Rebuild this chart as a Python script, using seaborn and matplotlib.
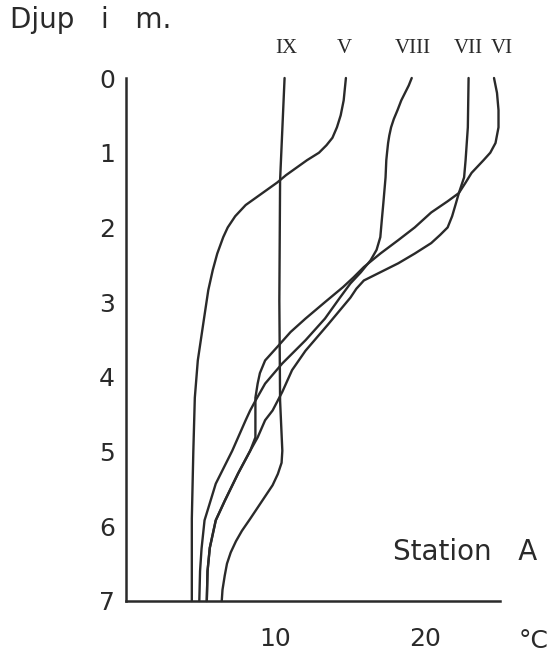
import matplotlib
matplotlib.use("Agg")
import matplotlib.pyplot as plt
import pandas as pd
import seaborn as sns

# Temperature profiles (°C) against depth (m), station A
months = ["IX", "V", "VIII", "VII", "VI"]

depth_IX = [0.0, 1.37, 2.98, 4.32, 4.99, 5.15, 5.3, 5.45, 5.6, 5.75, 5.9,
            6.06, 6.2, 6.35, 6.5, 6.66, 6.85, 7.0]
temp_IX = [10.6, 10.3, 10.25, 10.3, 10.45, 10.4, 10.15, 9.8, 9.3, 8.8, 8.3,
           7.75, 7.35, 7.0, 6.75, 6.6, 6.45, 6.4]

depth_V = [0.0, 0.3, 0.5, 0.66, 0.8, 0.9, 1.0, 1.1, 1.2, 1.3, 1.4, 1.5, 1.6,
           1.7, 1.85, 2.0, 2.13, 2.35, 2.57, 2.84, 3.24, 3.78, 4.28, 5.0,
           5.9, 7.0]
temp_V = [14.7, 14.55, 14.35, 14.1, 13.8, 13.4, 12.9, 12.1, 11.4, 10.7, 10.1,
          9.4, 8.7, 8.0, 7.3, 6.8, 6.5, 6.1, 5.8, 5.5, 5.2, 4.8, 4.6, 4.5,
          4.4, 4.4]

depth_VIII = [0.0, 0.1, 0.2, 0.3, 0.43, 0.55, 0.66, 0.77, 0.87, 1.0, 1.1,
              1.33, 1.68, 1.9, 2.13, 2.3, 2.44, 2.6, 2.75, 2.94, 3.22, 3.51,
              3.82, 4.09, 4.32, 4.45, 4.58, 4.99, 5.43, 5.79, 5.92, 6.3, 6.6,
              7.0]
temp_VIII = [19.1, 18.9, 18.65, 18.4, 18.15, 17.9, 17.72, 17.6, 17.52, 17.45,
             17.4, 17.35, 17.2, 17.1, 17.0, 16.75, 16.35, 15.7, 15.0, 14.3,
             13.3, 12.0, 10.45, 9.3, 8.65, 8.3, 8.0, 7.1, 6.0, 5.45, 5.25,
             5.05, 4.95, 4.9]

depth_VII = [0.0, 0.66, 1.1, 1.33, 1.54, 1.68, 1.85, 2.0, 2.1, 2.21, 2.35,
             2.48, 2.6, 2.71, 2.82, 2.94, 3.3, 3.65, 3.91, 4.2, 4.45, 4.58,
             4.81, 4.99, 5.29, 5.66, 5.92, 6.29, 6.6, 7.0]
temp_VII = [22.9, 22.85, 22.7, 22.6, 22.25, 22.05, 21.8, 21.5, 21.0, 20.4, 19.3,
            18.2, 17.0, 15.9, 15.4, 15.0, 13.5, 12.0, 11.1, 10.45, 9.8, 9.3,
            8.8, 8.3, 7.5, 6.6, 6.0, 5.6, 5.45, 5.4]

depth_VI = [0.0, 0.2, 0.43, 0.66, 0.87, 1.0, 1.1, 1.27, 1.4, 1.54, 1.65, 1.8,
            2.0, 2.17, 2.35, 2.53, 2.67, 2.8, 3.0, 3.22, 3.4, 3.58, 3.78, 3.95,
            4.09, 4.28, 4.58, 4.81, 4.99, 5.29, 5.66, 5.92, 6.29, 6.6, 7.0]
temp_VI = [24.6, 24.8, 24.9, 24.9, 24.7, 24.35, 23.9, 23.1, 22.7, 22.25, 21.5,
           20.4, 19.3, 18.2, 17.0, 15.9, 15.2, 14.5, 13.3, 12.0, 11.0, 10.2,
           9.3, 8.95, 8.8, 8.65, 8.65, 8.65, 8.3, 7.5, 6.6, 6.0, 5.6, 5.45, 5.4]

# temperatures at which the month labels sit above the profiles
label_temp = [10.7, 14.6, 19.2, 22.9, 25.1]

profiles = {
    "IX": (depth_IX, temp_IX),
    "V": (depth_V, temp_V),
    "VIII": (depth_VIII, temp_VIII),
    "VII": (depth_VII, temp_VII),
    "VI": (depth_VI, temp_VI),
}

rows = []
for m in months:
    d, t = profiles[m]
    for i, (dd, tt) in enumerate(zip(d, t)):
        rows.append({"month": m, "order": i, "depth": dd, "temp": tt})
df = pd.DataFrame(rows)

sns.set_style("white")
plt.rcParams["font.family"] = ["DejaVu Sans"]

ink = "#2a2a2a"
W, H = 558, 658
fig = plt.figure(figsize=(W / 100, H / 100), dpi=100)
ax = fig.add_axes([126 / W, 1 - 601 / H, (500 - 126) / W, (601 - 78) / H])

sns.lineplot(data=df, x="temp", y="depth", units="month", estimator=None,
             sort=False, color=ink, linewidth=1.7, ax=ax, legend=False)
for ln in ax.lines:
    ln.set_clip_on(False)
    ln.set_solid_capstyle("round")
    ln.set_solid_joinstyle("round")

ax.set_xlim(0, 25)
ax.set_ylim(7, 0)
ax.set_xticks([5, 10, 15, 20, 25])
ax.set_xticklabels(["", "10", "", "20", ""])
ax.set_yticks(range(8))
ax.set_yticklabels([str(i) for i in range(8)])
ax.tick_params(axis="both", colors=ink, width=1.3, labelsize=18,
               labelcolor=ink)
ax.tick_params(axis="x", length=9, pad=10)
ax.tick_params(axis="y", length=6, pad=2)
ax.set_xlabel("")
ax.set_ylabel("")

sns.despine(ax=ax, top=True, right=True)
for s in ("left", "bottom"):
    ax.spines[s].set_color(ink)
    ax.spines[s].set_linewidth(1.8)

for m, lt in zip(months, label_temp):
    ax.text(lt, -0.4, m, ha="center", va="center", fontsize=15,
            family="Liberation Serif", color=ink)

fig.text(537 / W, 1 - 552 / H, "Station   A", ha="right", va="center",
         fontsize=20, color=ink)
fig.text(534 / W, 1 - 641 / H, "°C", ha="center", va="center", fontsize=18,
         color=ink)
fig.text(10 / W, 1 - 20 / H, "Djup   i   m.", ha="left", va="center",
         fontsize=20, color=ink)

fig.savefig("out.png", dpi=100, facecolor="white")
